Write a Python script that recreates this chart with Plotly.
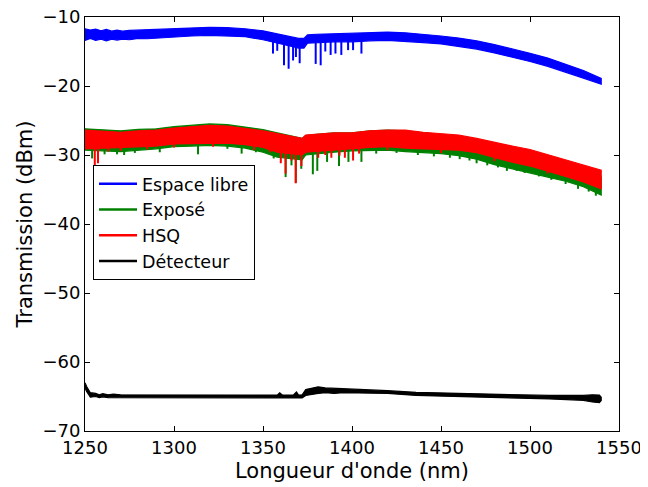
import plotly.graph_objects as go

# ---------------- data ----------------
# Espace libre (blue): band envelope
blue_x = [1250, 1253, 1256, 1259, 1262, 1265, 1268, 1271, 1275, 1280, 1285, 1290, 1300, 1310, 1320, 1330, 1340, 1350, 1355,
          1360, 1365, 1370, 1373, 1375, 1380, 1390, 1400, 1410, 1420, 1430, 1440, 1450,
          1460, 1470, 1480, 1490, 1500, 1510, 1520, 1530, 1540]
blue_hi = [-11.7, -11.9, -11.75, -12.0, -11.8, -12.05, -11.9, -12.05, -11.95, -11.9, -11.95, -11.85, -11.75, -11.6, -11.5, -11.55, -11.7, -12.0, -12.3,
           -12.6, -12.9, -13.1, -13.1, -12.6, -12.5, -12.4, -12.3, -12.25, -12.2, -12.3, -12.5, -12.75,
           -13.05, -13.45, -14.0, -14.6, -15.25, -15.95, -16.8, -17.75, -18.9]
blue_lo = [-13.4, -13.1, -13.4, -13.2, -13.45, -13.2, -13.35, -13.2, -13.3, -13.1, -13.15, -13.0, -12.9, -12.75, -12.65, -12.7, -12.85, -13.3, -13.6,
           -13.9, -14.2, -14.5, -14.5, -13.8, -13.7, -13.6, -13.6, -13.45, -13.4, -13.5, -13.7, -13.9,
           -14.25, -14.65, -15.2, -15.8, -16.45, -17.15, -17.95, -18.85, -19.75]
blue_dip_x = [1355.6, 1358.0, 1361.8, 1364.4, 1366.9, 1368.5, 1370.6, 1379.6, 1382.4, 1385.0,
              1388.0, 1390.7, 1394.0, 1397.8, 1400.6, 1405.3]
blue_dip_top = [-13.0, -13.2, -13.3, -13.5, -13.7, -13.8, -13.8, -13.1, -13.1, -13.0,
                -13.0, -13.0, -13.0, -12.9, -12.9, -12.9]
blue_dip_bot = [-15.3, -14.9, -17.0, -17.5, -16.3, -15.8, -16.7, -16.8, -17.0, -15.0,
                -15.5, -15.3, -15.5, -14.8, -14.8, -15.3]

# Exposé (green)
green_x = [1250, 1260, 1270, 1280, 1290, 1300, 1310, 1320, 1330, 1340, 1350, 1358, 1365, 1372,
           1374, 1380, 1390, 1400, 1410, 1420, 1430, 1440, 1450, 1460, 1470, 1480, 1490,
           1500, 1510, 1520, 1530, 1540]
green_hi = [-26.2, -26.4, -26.5, -26.3, -26.2, -25.9, -25.7, -25.5, -25.6, -25.9, -26.3, -26.8, -27.2, -27.6,
            -27.2, -27.0, -26.8, -26.8, -26.5, -26.4, -26.5, -26.8, -27.1, -27.4, -27.9, -28.5, -29.1,
            -29.6, -30.3, -31.0, -31.8, -33.2]
green_lo = [-29.3, -29.4, -29.5, -29.3, -29.1, -28.8, -28.7, -28.6, -28.7, -29.0, -29.6, -30.3, -30.5, -30.7,
            -30.0, -29.8, -29.6, -29.4, -29.3, -29.3, -29.5, -29.7, -29.8, -30.1, -30.6, -31.4, -32.0,
            -32.6, -33.2, -33.8, -34.6, -35.8]
green_dip_x = [1254.0, 1261.0, 1268.0, 1272.0, 1278.0, 1292.0, 1313.5, 1330.0, 1338.0, 1346.0, 1356.0, 1362.7, 1366.0, 1368.4, 1371.5,
               1378.0, 1380.5, 1386.0, 1392.7, 1398.0, 1405.3, 1413.6, 1425.0, 1437.0, 1446.0, 1455.0, 1460.5, 1466.0, 1470.0, 1476.0,
               1482.0, 1487.0, 1492.5, 1497.0, 1505.0, 1512.0, 1520.0, 1527.0, 1533.0, 1537.0]
green_dip_top = [-28.0, -28.0, -28.0, -28.0, -28.0, -27.8, -27.5, -27.4, -27.5, -27.8, -28.0, -28.5, -28.8, -29.0, -29.0,
                 -28.5, -28.4, -28.2, -28.2, -28.1, -28.0, -28.0, -28.0, -28.2, -28.5, -28.8, -28.8, -29.1, -29.2, -29.6,
                 -30.0, -30.3, -30.5, -31.0, -31.5, -32.0, -32.5, -33.0, -33.5, -34.0]
green_dip_bot = [-30.5, -29.9, -29.9, -30.0, -29.7, -29.6, -29.9, -29.1, -29.8, -29.6, -30.5, -33.2, -31.5, -34.0, -32.0,
                 -32.8, -32.3, -31.0, -31.6, -31.0, -31.0, -29.8, -29.7, -30.0, -30.2, -30.4, -30.6, -30.8, -31.2, -31.5,
                 -31.8, -32.3, -32.3, -32.6, -33.1, -33.6, -34.2, -34.9, -35.3, -35.9]

# HSQ (red)
red_x = [1250, 1260, 1270, 1280, 1290, 1300, 1310, 1320, 1330, 1340, 1350, 1358, 1365, 1372,
         1374, 1380, 1390, 1400, 1410, 1420, 1430, 1440, 1450, 1460, 1470, 1480, 1490,
         1500, 1510, 1520, 1530, 1540]
red_hi = [-26.4, -26.6, -26.7, -26.5, -26.4, -26.1, -25.9, -25.7, -25.8, -26.1, -26.5, -26.9, -27.3, -27.6,
          -27.1, -27.0, -26.8, -26.8, -26.5, -26.4, -26.4, -26.7, -26.95, -27.1, -27.6, -28.2, -28.7,
          -29.2, -29.95, -30.7, -31.5, -32.2]
red_lo = [-29.1, -28.9, -28.8, -28.8, -28.7, -28.4, -28.3, -28.3, -28.3, -28.5, -28.9, -29.6, -29.8, -30.0,
          -29.6, -29.4, -29.2, -29.1, -28.9, -28.8, -29.0, -29.1, -29.15, -29.3, -29.65, -30.4, -31.05,
          -31.6, -32.3, -33.1, -33.9, -34.9]
red_dip_x = [1255.5, 1257.3, 1263.0, 1270.0, 1285.0, 1300.0, 1322.0, 1345.0, 1354.0, 1360.0, 1362.7, 1366.0, 1368.4, 1371.6, 1381.0,
             1385.0, 1388.4, 1393.0, 1396.0, 1400.6, 1404.0, 1420.0, 1450.0, 1480.0, 1510.0]
red_dip_top = [-28.0, -28.0, -28.0, -28.0, -27.8, -27.5, -27.2, -27.5, -28.0, -28.5, -28.6, -28.8, -28.9, -29.0, -28.3,
               -28.2, -28.1, -28.0, -28.0, -28.0, -28.0, -27.8, -28.2, -29.5, -31.0]
red_dip_bot = [-31.5, -31.2, -29.5, -29.4, -29.2, -28.9, -28.8, -29.3, -29.6, -31.2, -32.7, -30.8, -34.1, -31.6, -30.4,
               -30.0, -30.4, -30.1, -30.4, -30.8, -29.8, -29.3, -29.7, -30.9, -32.7]

# Détecteur (black)
black_x = [1250, 1251, 1253, 1256, 1258, 1260, 1263, 1266, 1270, 1300, 1340, 1358, 1359.4, 1361, 1367, 1368.8, 1370,
           1372, 1374, 1381, 1385, 1390, 1395, 1400, 1420, 1436, 1473, 1511, 1530, 1535, 1539, 1540]
black_hi = [-63.0, -63.6, -64.45, -64.55, -64.75, -64.6, -64.75, -64.65, -64.75, -64.8, -64.8, -64.8, -64.45, -64.8, -64.8, -64.35, -64.8,
            -64.75, -64.0, -63.6, -63.75, -63.8, -63.9, -63.95, -64.15, -64.4, -64.65, -64.85, -64.85, -64.75, -64.8, -65.1]
black_lo = [-63.8, -64.3, -65.1, -65.0, -65.15, -65.05, -65.15, -65.1, -65.2, -65.2, -65.2, -65.2, -65.2, -65.2, -65.2, -65.2, -65.2,
            -65.2, -64.85, -64.55, -64.45, -64.55, -64.45, -64.4, -64.55, -64.85, -65.15, -65.35, -65.55, -65.8, -65.9, -65.6]

x_ticks = [1250, 1300, 1350, 1400, 1450, 1500, 1550]
y_ticks = [-70, -60, -50, -40, -30, -20, -10]

names = ["Espace libre", "Exposé", "HSQ", "Détecteur"]
colors = ["#0000ff", "#008000", "#ff0000", "#000000"]

# ---------------- figure ----------------
fig = go.Figure()


def band(xs, hi, lo, color):
    fig.add_trace(go.Scatter(
        x=list(xs) + list(xs)[::-1], y=list(hi) + list(lo)[::-1],
        fill="toself", fillcolor=color, mode="lines",
        line=dict(color=color, width=1.2), showlegend=False, hoverinfo="skip"))


def dips(xs, tops, bots, color):
    dx, dy = [], []
    for a, t, b in zip(xs, tops, bots):
        dx += [a, a, None]
        dy += [t, b, None]
    fig.add_trace(go.Scatter(x=dx, y=dy, mode="lines",
                             line=dict(color=color, width=2), showlegend=False, hoverinfo="skip"))


band(blue_x, blue_hi, blue_lo, colors[0])
dips(blue_dip_x, blue_dip_top, blue_dip_bot, colors[0])
band(green_x, green_hi, green_lo, colors[1])
dips(green_dip_x, green_dip_top, green_dip_bot, colors[1])
band(red_x, red_hi, red_lo, colors[2])
dips(red_dip_x, red_dip_top, red_dip_bot, colors[2])
band(black_x, black_hi, black_lo, colors[3])

for i, (n, c) in enumerate(zip(names, colors)):
    fig.add_trace(go.Scatter(x=[None], y=[None], mode="lines", name=n,
                             line=dict(color=c, width=2.5), legendrank=i + 1))

axis_common = dict(
    showgrid=False, zeroline=False, showline=True, linecolor="black", linewidth=1,
    mirror="allticks", ticks="inside", ticklen=5, tickwidth=1, tickcolor="black",
    tickfont=dict(family="DejaVu Sans", size=18, color="black"), automargin=False,
    ticklabeloverflow="allow",
)

# the page body adds an 8 px offset; the figure is sized so that the plot area
# lands where the reference has it
fig.update_layout(
    width=640, height=479,
    margin=dict(l=77, r=29, t=9, b=56),
    paper_bgcolor="white", plot_bgcolor="white",
    font=dict(family="DejaVu Sans", color="black"),
    xaxis=dict(range=[1250, 1550], tickvals=x_ticks, ticktext=[str(v) for v in x_ticks],
               title=dict(text="Longueur d'onde (nm)", font=dict(size=21), standoff=6),
               **axis_common),
    yaxis=dict(range=[-70, -10], tickvals=y_ticks, ticktext=["\u2212" + str(-v) for v in y_ticks],
               title=dict(text="Transmission (dBm)", font=dict(size=21), standoff=4),
               **axis_common),
    legend=dict(x=0.015, y=0.643, xanchor="left", yanchor="top",
                bgcolor="white", bordercolor="black", borderwidth=1,
                font=dict(family="DejaVu Sans", size=17.5), tracegroupgap=0,
                itemwidth=38),
    showlegend=True,
)

fig.write_html("out.html")
